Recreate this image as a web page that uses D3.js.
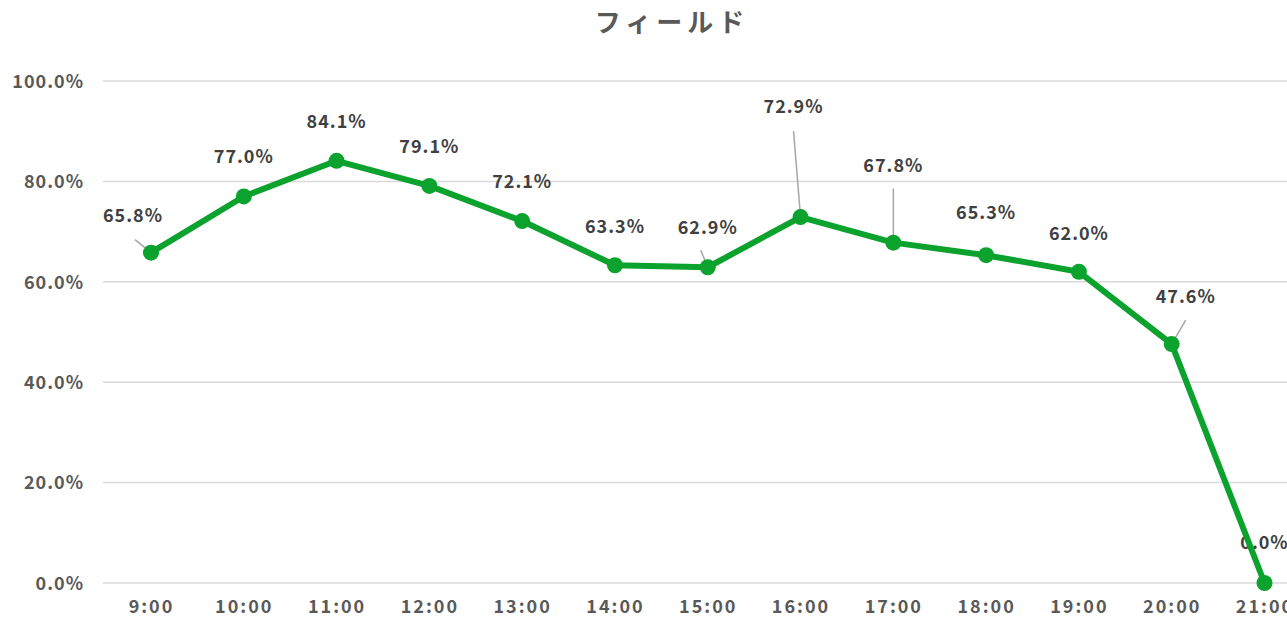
<!DOCTYPE html>
<html>
<head>
<meta charset="utf-8">
<script src="https://cdn.jsdelivr.net/npm/d3@7/dist/d3.min.js"></script>
<style>
  html, body { margin: 0; padding: 0; background: #fff; overflow: hidden; }
  svg { display: block; font-family: "Noto Sans CJK JP", "Noto Sans", sans-serif; }
</style>
</head>
<body>
<svg id="chart" width="1287" height="623"></svg>
<script>
// Hourly share for the field area
const categories = ["9:00", "10:00", "11:00", "12:00", "13:00", "14:00", "15:00",
                    "16:00", "17:00", "18:00", "19:00", "20:00", "21:00"];
const values = [65.8, 77.0, 84.1, 79.1, 72.1, 63.3, 62.9, 72.9, 67.8, 65.3, 62.0, 47.6, 0.0];
const yTicks = [0, 20, 40, 60, 80, 100];
const chartTitle = "フィールド";

// Label placement (offset of the label centre from its point, in px)
const labelOffsets = [
  [-18, -37], [0, -40], [0, -39], [0, -39], [0, -39], [0, -39], [0, -40],
  [-7, -110], [0, -77], [0, -42], [0, -38], [14, -47], [0, -40]
];
// Leader lines: point index -> start offset from the point, in px
const leaderStarts = new Map([
  [0, [-16, -13]], [6, [-7, -17]], [7, [-7, -86]], [8, [0, -54]], [11, [14, -24]]
]);

const W = 1287, H = 623;
const svg = d3.select("#chart");

const x = d3.scalePoint().domain(categories).range([151, 1264.5]);
const y = d3.scaleLinear().domain([0, 100]).range([583, 81]);

// Title
svg.append("text")
  .attr("x", 672).attr("y", 32)
  .attr("text-anchor", "middle")
  .attr("font-size", 26).attr("font-weight", 700)
  .attr("fill", "#595959")
  .attr("letter-spacing", 5)
  .text(chartTitle);

// Gridlines
svg.append("g").selectAll("line")
  .data(yTicks).join("line")
  .attr("x1", 103).attr("x2", W + 30)
  .attr("y1", d => y(d)).attr("y2", d => y(d))
  .attr("stroke", "#d9d9d9").attr("stroke-width", 1.5);

// Y axis labels
const yAxis = d3.axisLeft(y).tickValues(yTicks).tickSize(0).tickPadding(0)
  .tickFormat(d => d3.format(".1f")(d) + "%");
svg.append("g").attr("transform", "translate(84,0)").call(yAxis)
  .call(g => g.select(".domain").remove())
  .call(g => g.selectAll("text")
    .attr("font-family", "'Noto Sans CJK JP', sans-serif")
    .attr("font-size", 18).attr("font-weight", 700)
    .attr("letter-spacing", 1)
    .attr("fill", "#595959").attr("dy", "0.35em"));

// X axis labels
const xAxis = d3.axisBottom(x).tickSize(0).tickPadding(0);
svg.append("g").attr("transform", "translate(0,599)").call(xAxis)
  .call(g => g.select(".domain").remove())
  .call(g => g.selectAll("text")
    .attr("font-family", "'Noto Sans CJK JP', sans-serif")
    .attr("font-size", 18).attr("font-weight", 700)
    .attr("letter-spacing", 2)
    .attr("fill", "#595959").attr("dy", "0.75em"));

const pts = categories.map((c, i) => ({ c, v: values[i], i }));

// Data labels (drawn beneath the series)
svg.append("g").selectAll("text")
  .data(pts).join("text")
  .attr("x", d => x(d.c) + labelOffsets[d.i][0])
  .attr("y", d => y(d.v) + labelOffsets[d.i][1])
  .attr("dy", "0.35em")
  .attr("text-anchor", "middle")
  .attr("font-size", 18).attr("font-weight", 700)
  .attr("letter-spacing", 1)
  .attr("fill", "#404040")
  .text(d => d3.format(".1f")(d.v) + "%");

// Leader lines
svg.append("g").selectAll("line")
  .data(pts.filter(d => leaderStarts.has(d.i))).join("line")
  .attr("x1", d => x(d.c) + leaderStarts.get(d.i)[0])
  .attr("y1", d => y(d.v) + leaderStarts.get(d.i)[1])
  .attr("x2", d => x(d.c))
  .attr("y2", d => y(d.v))
  .attr("stroke", "#a6a6a6").attr("stroke-width", 1.5);

// Series line
svg.append("path")
  .datum(pts)
  .attr("fill", "none")
  .attr("stroke", "#0ca22e")
  .attr("stroke-width", 6)
  .attr("stroke-linejoin", "round")
  .attr("d", d3.line().x(d => x(d.c)).y(d => y(d.v)));

// Markers
svg.append("g").selectAll("circle")
  .data(pts).join("circle")
  .attr("cx", d => x(d.c)).attr("cy", d => y(d.v))
  .attr("r", 8)
  .attr("fill", "#0ca22e");
</script>
</body>
</html>
